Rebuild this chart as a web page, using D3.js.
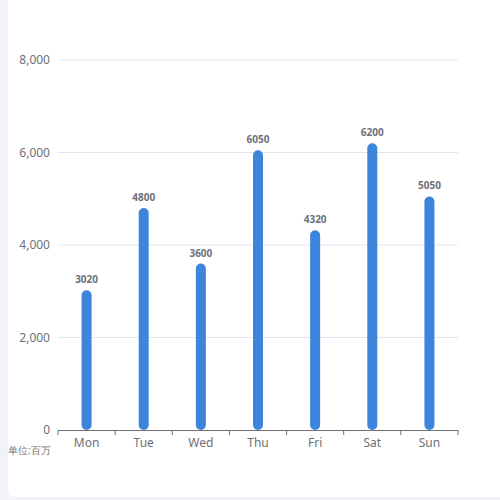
<!DOCTYPE html><html><head><meta charset="utf-8"><script src="https://cdn.jsdelivr.net/npm/d3@7"></script>
<style>body{margin:0;background:#f2f3f8}</style></head><body><svg id="c" width="500" height="500"></svg>
<script>
const categories=["Mon","Tue","Wed","Thu","Fri","Sat","Sun"];
const values=[3020,4800,3600,6050,4320,6200,5050];
const yTicks=[0,2000,4000,6000,8000];
const svg=d3.select("#c");
svg.append("rect").attr("x",8).attr("y",-10).attr("width",510).attr("height",507).attr("rx",6).attr("fill","#fff");
const x=d3.scaleBand().domain(categories).range([58,458]);
const y=d3.scaleLinear().domain([0,8000]).range([430,60]);
const f="'Microsoft YaHei','Noto Sans',sans-serif";
svg.selectAll(".g").data(yTicks.slice(1)).join("line").attr("x1",58).attr("x2",458).attr("y1",d=>y(d)).attr("y2",d=>y(d)).attr("stroke","#e0e6f1");
svg.selectAll(".yl").data(yTicks).join("text").attr("x",50).attr("y",d=>y(d)+4).attr("text-anchor","end").attr("font-family",f).attr("font-size",12).attr("fill","#6e7079").text(d=>d3.format(",")(d));
svg.append("line").attr("x1",58).attr("x2",458).attr("y1",430.5).attr("y2",430.5).attr("stroke","#6e7079");
svg.selectAll(".t").data(d3.range(8)).join("line").attr("x1",d=>58+d*400/7).attr("x2",d=>58+d*400/7).attr("y1",430).attr("y2",435).attr("stroke","#6e7079");
svg.selectAll(".xl").data(categories).join("text").attr("x",d=>x(d)+x.bandwidth()/2).attr("y",447).attr("text-anchor","middle").attr("font-family",f).attr("font-size",12).attr("fill","#6e7079").text(d=>d);
svg.append("text").attr("x",8).attr("y",454).attr("font-family",f).attr("font-size",10).attr("fill","#6e7079").text("单位:百万");
const bw=10;
svg.selectAll(".b").data(values).join("rect").attr("x",(d,i)=>x(categories[i])+x.bandwidth()/2-bw/2).attr("width",bw).attr("y",d=>y(d)).attr("height",d=>430-y(d)).attr("rx",5).attr("fill","#3d84dc");
svg.selectAll(".v").data(values).join("text").attr("x",(d,i)=>x(categories[i])+x.bandwidth()/2).attr("y",d=>y(d)-7).attr("text-anchor","middle").attr("font-family",f).attr("font-size",10).attr("font-weight","bold").attr("fill","#6e7079").text(d=>d);
</script></body></html>
